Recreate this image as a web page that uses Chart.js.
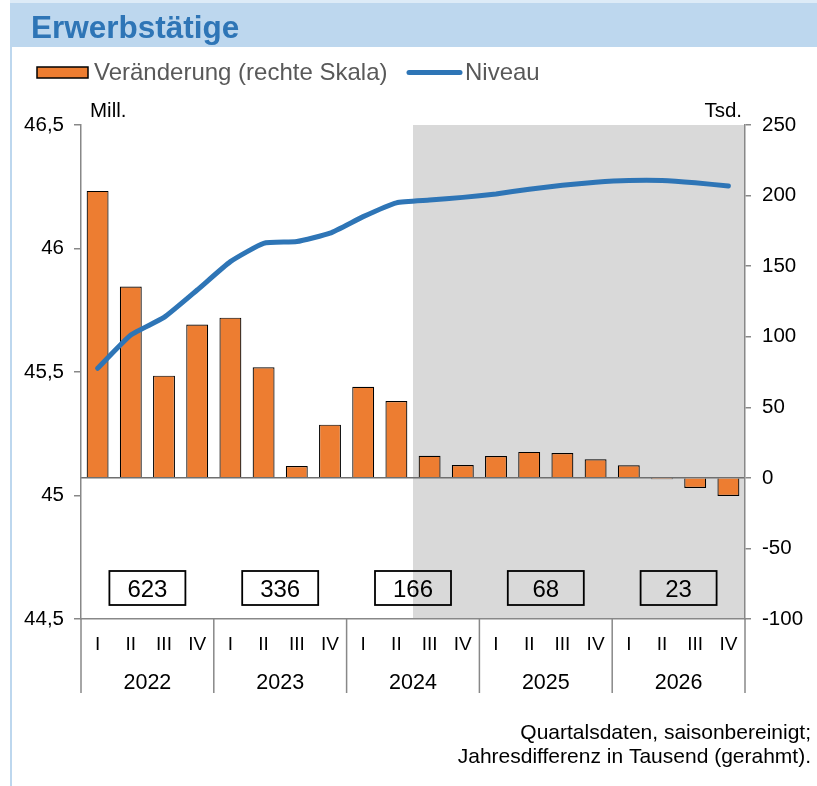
<!DOCTYPE html>
<html lang="de">
<head>
<meta charset="UTF-8">
<title>Erwerbstätige</title>
<script src="https://cdn.jsdelivr.net/npm/chart.js"></script>
<style>
  body { margin: 0; background: #fff; }
  #wrap { width: 817px; height: 786px; }
</style>
</head>
<body>
<div id="wrap"><canvas id="chart" width="817" height="786"></canvas></div>
<script>
// data
const quarters = ["I", "II", "III", "IV"];
const years = ["2022", "2023", "2024", "2025", "2026"];
const change = [203.3, 135.5, 72.4, 108.6, 113.5, 78.4, 8.4, 37.7, 64.6, 54.5,
                15.7, 9.1, 15.5, 18.4, 17.6, 13.2, 8.9, -1.0, -7.2, -12.8];   // Tsd., right scale
const level = [45.515, 45.650, 45.721, 45.832, 45.947, 46.021, 46.028, 46.062, 46.129, 46.185,
               46.196, 46.207, 46.221, 46.240, 46.256, 46.268, 46.275, 46.275, 46.266, 46.253]; // Mill., left scale
const yearDiff = [623, 336, 166, 68, 23];
const forecastFrom = 10; // first shaded quarter (2024 III)

const labels = [];
years.forEach(y => quarters.forEach(q => labels.push(q)));

const FONT = "'Liberation Sans', Arial, sans-serif";
const AXIS = "#888888";

const deco = {
  id: "deco",
  beforeDraw(chart) {
    const ctx = chart.ctx, a = chart.chartArea, x = chart.scales.x;
    ctx.save();
    ctx.fillStyle = "#fff";
    ctx.fillRect(0, 0, chart.width, chart.height);
    // title bar
    ctx.fillStyle = "#BDD7EE";
    ctx.fillRect(10, 0, 807, 47);
    ctx.fillStyle = "#DDEBF7";
    ctx.fillRect(10, 0, 807, 3);
    ctx.fillStyle = "#BDD7EE";
    ctx.fillRect(10, 47, 2, chart.height - 47);
    ctx.fillStyle = "#2E75B6";
    ctx.font = "bold 31.5px " + FONT;
    ctx.textBaseline = "alphabetic";
    ctx.fillText("Erwerbstätige", 31, 38);
    // legend
    ctx.fillStyle = "#ED7D31";
    ctx.fillRect(37, 67, 51, 11);
    ctx.strokeStyle = "#000";
    ctx.lineWidth = 1.5;
    ctx.strokeRect(37, 67, 51, 11);
    ctx.fillStyle = "#595959";
    ctx.font = "24px " + FONT;
    ctx.fillText("Veränderung (rechte Skala)", 94, 80);
    ctx.strokeStyle = "#2E75B6";
    ctx.lineWidth = 5;
    ctx.lineCap = "round";
    ctx.beginPath();
    ctx.moveTo(409, 72.5);
    ctx.lineTo(460, 72.5);
    ctx.stroke();
    ctx.fillText("Niveau", 465, 80);
    // units
    ctx.fillStyle = "#000";
    ctx.font = "20.5px " + FONT;
    ctx.fillText("Mill.", 90, 117);
    ctx.textAlign = "right";
    ctx.fillText("Tsd.", 742, 117);
    // footnote
    ctx.font = "21px " + FONT;
    ctx.fillText("Quartalsdaten, saisonbereinigt;", 811, 739);
    ctx.fillText("Jahresdifferenz in Tausend (gerahmt).", 811, 763);
    // forecast shading
    const x0 = (x.getPixelForValue(forecastFrom - 1) + x.getPixelForValue(forecastFrom)) / 2;
    ctx.fillStyle = "#D9D9D9";
    ctx.fillRect(x0, a.top, a.right - x0, a.bottom - a.top);
    ctx.restore();
  },
  afterDraw(chart) {
    const ctx = chart.ctx, a = chart.chartArea, x = chart.scales.x;
    const half = (x.getPixelForValue(1) - x.getPixelForValue(0)) / 2;
    ctx.save();
    // year separators
    ctx.strokeStyle = AXIS;
    ctx.lineWidth = 1.5;
    for (let i = 0; i <= years.length; i++) {
      const px = i < years.length ? x.getPixelForValue(i * 4) - half : a.right;
      ctx.beginPath();
      ctx.moveTo(px, a.bottom);
      ctx.lineTo(px, 693);
      ctx.stroke();
    }
    ctx.fillStyle = "#000";
    ctx.textAlign = "center";
    ctx.textBaseline = "alphabetic";
    years.forEach((y, i) => {
      const cx = (x.getPixelForValue(i * 4) + x.getPixelForValue(i * 4 + 3)) / 2;
      ctx.font = "21.5px " + FONT;
      ctx.fillText(y, cx, 689);
      // boxed annual difference
      ctx.lineWidth = 1.8;
      ctx.strokeStyle = "#000";
      ctx.strokeRect(cx - 38, 571, 76, 34);
      ctx.font = "24px " + FONT;
      ctx.fillText(String(yearDiff[i]), cx, 597);
    });
    ctx.restore();
  }
};

new Chart(document.getElementById("chart"), {
  data: {
    labels: labels,
    datasets: [
      {
        type: "line",
        label: "Niveau",
        data: level,
        yAxisID: "y",
        borderColor: "#2E75B6",
        borderWidth: 5,
        borderCapStyle: "round",
        borderJoinStyle: "round",
        pointRadius: 0,
        tension: 0.15,
        order: 0
      },
      {
        type: "bar",
        label: "Veränderung (rechte Skala)",
        data: change,
        yAxisID: "y1",
        backgroundColor: "#ED7D31",
        borderColor: "#000",
        borderWidth: 1.2,
        barPercentage: 0.66,
        categoryPercentage: 1,
        order: 1
      }
    ]
  },
  options: {
    responsive: false,
    animation: false,
    layout: { padding: { top: 125, left: 0, right: 0, bottom: 0 } },
    plugins: { legend: { display: false }, tooltip: { enabled: false } },
    scales: {
      x: {
        type: "category",
        offset: true,
        grid: { display: false, drawTicks: false },
        border: { display: true, color: AXIS, width: 1.5 },
        ticks: { color: "#000", font: { family: FONT, size: 19 }, padding: 14, maxRotation: 0, autoSkip: false },
        afterFit: s => { s.height = 167; }
      },
      y: {
        position: "left",
        min: 44.5,
        max: 46.5,
        ticks: {
          stepSize: 0.5,
          color: "#000",
          font: { family: FONT, size: 20.5 },
          padding: 10,
          callback: v => String(v).replace(".", ",")
        },
        grid: { drawOnChartArea: false, color: AXIS, tickLength: 7, lineWidth: 1.5 },
        border: { color: AXIS, width: 1.5 },
        afterFit: s => { s.width = 81; }
      },
      y1: {
        position: "right",
        min: -100,
        max: 250,
        ticks: { stepSize: 50, color: "#000", font: { family: FONT, size: 20.5 }, padding: 11 },
        grid: {
          drawOnChartArea: true,
          color: c => c.tick && c.tick.value === 0 ? "#6F6F6F" : "rgba(0,0,0,0)",
          tickColor: AXIS,
          tickLength: 6,
          lineWidth: 1.5
        },
        border: { color: AXIS, width: 1.5 },
        afterFit: s => { s.width = 72; }
      }
    }
  },
  plugins: [deco]
});
</script>
</body>
</html>
